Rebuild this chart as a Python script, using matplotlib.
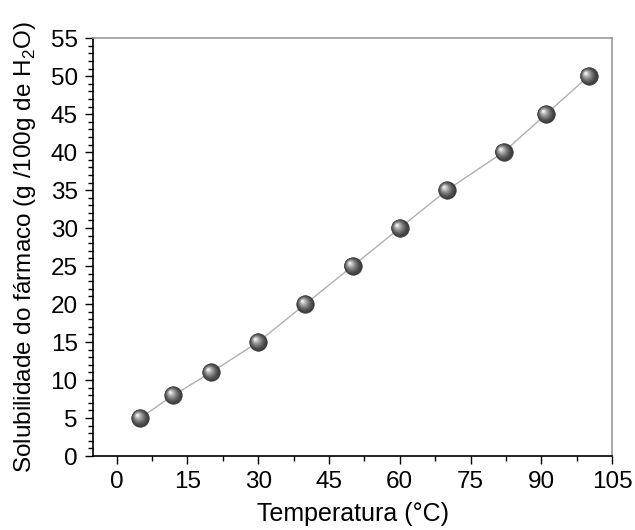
import matplotlib.pyplot as plt
import matplotlib.transforms as mtransforms
import numpy as np
from matplotlib.ticker import MultipleLocator

plt.rcParams['font.family'] = ['Liberation Sans', 'DejaVu Sans']
plt.rcParams['mathtext.fontset'] = 'custom'
plt.rcParams['mathtext.rm'] = 'Liberation Sans'

# Data
temperatura = [5, 12, 20, 30, 40, 50, 60, 70, 82, 91, 100]
solubilidade = [5, 8, 11, 15, 20, 25, 30, 35, 40, 45, 50]

fig = plt.figure(figsize=(6.35, 5.3), dpi=100)
ax = fig.add_axes([0.1465, 0.1396, 0.8175, 0.7884])

ax.plot(temperatura, solubilidade, color="#b0b0b0", lw=1.0, zorder=2)

# Shaded "sphere" markers built from stacked circles
n_layers = 14
base = np.array([0.25, 0.25, 0.25])
light = np.array([0.93, 0.93, 0.93])
for i in range(n_layers):
    t = i / (n_layers - 1)
    size = 155 * (1 - t) ** 1.6 + 3
    col = base + (light - base) * t ** 1.5
    off = mtransforms.offset_copy(ax.transData, fig=fig,
                                  x=-2.0 * t, y=2.0 * t, units="points")
    ax.scatter(temperatura, solubilidade, s=size, color=col,
               edgecolors="#333333" if i == 0 else "none",
               linewidths=0.5, transform=off, zorder=3 + i)

ax.set_xlim(-5, 105)
ax.set_ylim(0, 55)
ax.xaxis.set_major_locator(MultipleLocator(15))
ax.xaxis.set_minor_locator(MultipleLocator(7.5))
ax.yaxis.set_major_locator(MultipleLocator(5))
ax.yaxis.set_minor_locator(MultipleLocator(1))

ax.tick_params(which="both", direction="out", top=False, right=False,
               labelsize=17.5, color="black", pad=5)
ax.tick_params(which="major", length=6, width=1)
ax.tick_params(which="minor", length=3.5, width=1)

ax.spines["left"].set_color("black")
ax.spines["bottom"].set_color("black")
ax.spines["top"].set_color("#999999")
ax.spines["right"].set_color("#999999")
for s in ax.spines.values():
    s.set_linewidth(1.2)

ax.set_xlabel("Temperatura (°C)", fontsize=18, labelpad=6)
ax.set_ylabel("Solubilidade do fármaco (g /100g de H$_2$O)", fontsize=17.5,
              labelpad=9)

fig.savefig("out.png", dpi=100)
